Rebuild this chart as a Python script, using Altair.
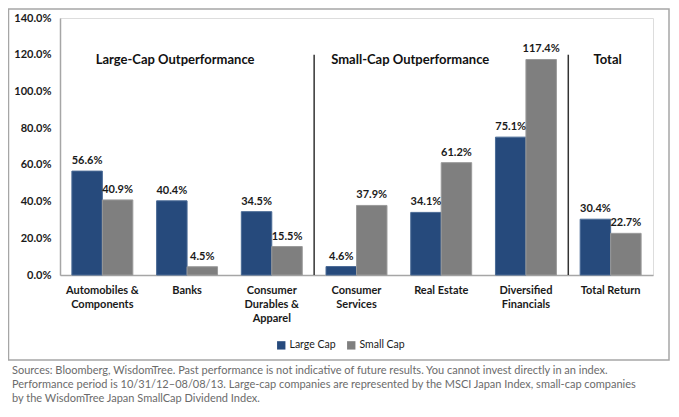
import altair as alt
import pandas as pd

# ---- data ----
categories = ["Automobiles &|Components", "Banks", "Consumer|Durables &|Apparel",
              "Consumer|Services", "Real Estate", "Diversified|Financials", "Total Return"]
large_cap = [56.6, 40.4, 34.5, 4.6, 34.1, 75.1, 30.4]
small_cap = [40.9, 4.5, 15.5, 37.9, 61.2, 117.4, 22.7]
series = ["Large Cap", "Small Cap"]
colors = ["#264A7C", "#7F7F7F"]
y_ticks = [0, 20, 40, 60, 80, 100, 120, 140]
headers = ["Large-Cap Outperformance", "Small-Cap Outperformance", "Total"]
header_cats = ["Banks", "Real Estate", "Total Return"]
header_level = 117
separator_cats = ["Consumer|Services", "Total Return"]
separator_top = 120
footer = ("Sources: Bloomberg, WisdomTree. Past performance is not indicative of future results. You cannot invest directly in an index.\n"
          "Performance period is 10/31/12\u201308/08/13. Large-cap companies are represented by the MSCI Japan Index, small-cap companies\n"
          "by the WisdomTree Japan SmallCap Dividend Index.")

rows = []
for c, l, s in zip(categories, large_cap, small_cap):
    rows.append({"category": c, "series": series[0], "value": l})
    rows.append({"category": c, "series": series[1], "value": s})
df = pd.DataFrame(rows)
df["label"] = df["value"].map(lambda v: f"{v:.1f}%")

FONT = "Lato"
PLOT_W = 593
STEP = PLOT_W / len(categories)

x_axis = alt.Axis(labelExpr="split(datum.label, '|')", labelAngle=0,
                  labelFont=FONT, labelFontSize=11, labelFontWeight="bold",
                  labelColor="#1a1a1a", labelPadding=9, labelLineHeight=14,
                  ticks=False, domainColor="#A6A6A6", domainWidth=1.5,
                  labelBaseline="top", labelOverlap=False, bandPosition=0.5)
x_scale = alt.Scale(domain=categories, paddingInner=0, paddingOuter=0)
y_axis = alt.Axis(values=y_ticks, labelExpr="format(datum.value, '.1f') + '%'",
                  labelFont=FONT, labelFontSize=11, labelFontWeight="bold",
                  labelColor="#1a1a1a", labelPadding=9, ticks=False,
                  labelOverlap=False, labelBound=False, labelFlush=False,
                  grid=False, domainColor="#A6A6A6", domainWidth=1.5)
y_scale = alt.Scale(domain=[0, 140], nice=False)


def X():
    return alt.X("category:N", sort=categories, title=None, scale=x_scale, axis=x_axis)


def Y(field="value"):
    return alt.Y(f"{field}:Q", title=None, scale=y_scale, axis=y_axis)


xoff = alt.XOffset("series:N", sort=series,
                   scale=alt.Scale(paddingInner=0, paddingOuter=0.39))

base = alt.Chart(df)

bars = base.mark_bar(strokeWidth=1).encode(
    x=X(), y=Y(), xOffset=xoff,
    color=alt.Color("series:N", sort=series,
                    scale=alt.Scale(domain=series, range=colors),
                    legend=alt.Legend(title=None, orient="none", direction="horizontal",
                                      legendX=216, legendY=322, symbolType="square",
                                      symbolSize=70, symbolStrokeWidth=0,
                                      labelFont=FONT, labelFontSize=10.5,
                                      labelColor="#1a1a1a", columnPadding=10,
                                      labelOffset=3)),
    stroke=alt.Stroke("series:N", sort=series,
                      scale=alt.Scale(domain=series, range=["#4a6b96", "#9a9a9a"]),
                      legend=None),
)

labels = base.mark_text(baseline="bottom", dy=-5, font=FONT, fontSize=11,
                        fontWeight="bold", color="#1a1a1a").encode(
    x=X(), y=Y(), xOffset=xoff, text="label:N")

sep_df = pd.DataFrame({"category": separator_cats, "value": [0] * len(separator_cats),
                       "top": [separator_top] * len(separator_cats)})
seps = alt.Chart(sep_df).mark_rule(color="#333333", strokeWidth=1.5,
                                   xOffset=-STEP / 2).encode(
    x=X(), y=Y(), y2="top:Q")

head_layers = []
for h, c, dx in zip(headers, header_cats, [-12, -31, -3]):
    hdf = pd.DataFrame({"category": [c], "text": [h], "value": [header_level]})
    head_layers.append(
        alt.Chart(hdf).mark_text(font=FONT, fontSize=13, fontWeight="bold",
                                 color="#111111", dx=dx).encode(
            x=X(), y=Y(), text="text:N"))

border = alt.Chart(pd.DataFrame({"k": [0]})).mark_rect(
    fill="transparent", stroke="#A6A6A6", strokeWidth=1.5).encode(
    x=alt.value(-51.5), x2=alt.value(609), y=alt.value(-9), y2=alt.value(342))

foot = alt.Chart(pd.DataFrame({"t": [footer]})).mark_text(
    align="left", baseline="top", lineBreak="\n", lineHeight=14, font=FONT,
    fontSize=11, color="#6b6b6b").encode(
    x=alt.value(-48), y=alt.value(347), text="t:N")

chart = alt.layer(bars, border, seps, labels, *head_layers, foot).properties(
    width=PLOT_W, height=257,
    autosize=alt.AutoSizeParams(type="none"),
    padding={"left": 52, "top": 10, "right": 18, "bottom": 130},
).configure_view(stroke=None).configure(background="white")

chart.save("out.html", embed_options={"renderer": "svg", "actions": False})
